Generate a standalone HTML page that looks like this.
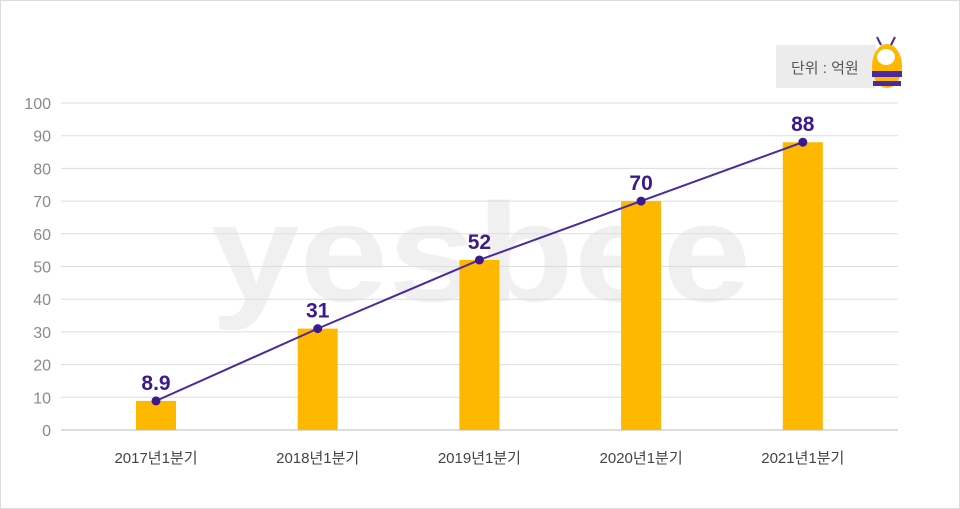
<!DOCTYPE html>
<html><head><meta charset="utf-8">
<style>
body{margin:0;background:#fff;}
#wrap{position:relative;width:958px;height:507px;border:1px solid #dcdcdc;overflow:hidden;background:#fff;font-family:"Liberation Sans","Noto Sans CJK KR",sans-serif;}
</style></head><body>
<div id="wrap">
<svg id="chart" width="958" height="507"></svg>
</div>
<script>
const categories=["2017년1분기","2018년1분기","2019년1분기","2020년1분기","2021년1분기"];
const values=[8.9,31,52,70,88];
const valueLabels=["8.9","31","52","70","88"];
const yTicks=[0,10,20,30,40,50,60,70,80,90,100];
const NS="http://www.w3.org/2000/svg";
const svg=document.getElementById('chart');
function y(v){return 429-v*3.27;}
function x(i){return 155+i*161.7;}
function mk(t,a,p){const e=document.createElementNS(NS,t);for(const k in a)e.setAttribute(k,a[k]);(p||svg).appendChild(e);return e;}
// watermark
let wm=mk('text',{x:210,y:300,'font-size':140,'font-weight':'bold',fill:'#f0f0f0',textLength:540,lengthAdjust:'spacingAndGlyphs','font-family':'Liberation Sans, sans-serif'});
wm.textContent='yesbee';


// grid + ticks
yTicks.forEach(t=>{
 let l=mk('line',{x1:60,x2:897,y1:y(t),y2:y(t),stroke:t===0?'#bbb':'#ddd','stroke-width':1});
 
 
 let tx=mk('text',{x:50,y:y(t)+6,'text-anchor':'end','font-size':16,fill:'#8a8a8a'});
 tx.textContent=t;
 
 
});
// bars
values.forEach((v,i)=>{
 let b=mk('rect',{x:x(i)-20,y:y(v),width:40,height:y(0)-y(v),fill:'#ffb800'});
 
 
 let c=mk('text',{x:x(i),y:462,'text-anchor':'middle','font-size':15,fill:'#444'});
 c.textContent=categories[i];
 
 
});
// line
let pts=values.map((v,i)=>x(i)+','+y(v)).join(' ');
let pl=mk('polyline',{points:pts,fill:'none',stroke:'#4a2a9e','stroke-width':2});


values.forEach((v,i)=>{
 let p=mk('circle',{cx:x(i),cy:y(v),r:4.5,fill:'#3b1a8e'});
 
 
 let t=mk('text',{x:x(i),y:y(v)-11,'text-anchor':'middle','font-size':21,'font-weight':'bold',fill:'#3b1a8e'});
 t.textContent=valueLabels[i];
 
 
});
// unit box
let ub=mk('rect',{x:775,y:44,width:100,height:43,fill:'#ececec'});


let ut=mk('text',{x:790,y:72,'font-size':15,fill:'#555'});
ut.textContent='단위 : 억원';


// bee mascot
let g=mk('g',{});


mk('ellipse',{cx:886,cy:65,rx:15,ry:22,fill:'#ffb800'},g);
mk('rect',{x:871,y:70,width:30,height:6,fill:'#4a2a9e'},g);
mk('rect',{x:872,y:80,width:28,height:5,fill:'#4a2a9e'},g);
mk('ellipse',{cx:885,cy:56,rx:9,ry:8,fill:'#fff'},g);
mk('line',{x1:880,y1:44,x2:876,y2:36,stroke:'#4a2a9e','stroke-width':2},g);
mk('line',{x1:890,y1:44,x2:894,y2:36,stroke:'#4a2a9e','stroke-width':2},g);
</script>
</body></html>
